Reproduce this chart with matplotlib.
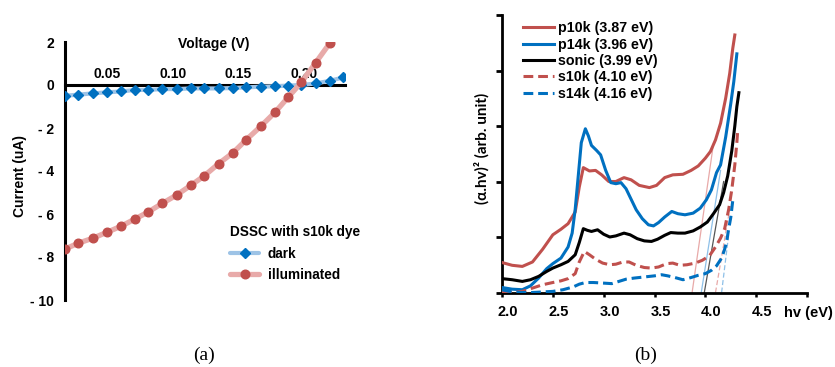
import matplotlib
matplotlib.use("Agg")
import matplotlib.pyplot as plt
import matplotlib.transforms as mtransforms

plt.rcParams['font.family'] = ['Liberation Sans', 'DejaVu Sans']

# ---------------- panel (a) data ----------------
voltage = [0.018, 0.028, 0.039, 0.050, 0.061, 0.071, 0.081, 0.092, 0.103, 0.114,
           0.124, 0.135, 0.146, 0.156, 0.167, 0.178, 0.188, 0.198, 0.209, 0.220, 0.230]
dark = [-0.50, -0.45, -0.39, -0.34, -0.30, -0.23, -0.23, -0.19, -0.19, -0.16,
        -0.16, -0.16, -0.14, -0.11, -0.08, -0.06, -0.03, 0.00, 0.07, 0.20, 0.35]
illuminated = [-7.63, -7.36, -7.13, -6.85, -6.56, -6.24, -5.92, -5.51, -5.12, -4.66,
               -4.23, -3.66, -3.15, -2.55, -1.93, -1.27, -0.57, 0.12, 1.04, 1.97]
a_xticks = [0.05, 0.10, 0.15, 0.20]
a_xticklabels = ["0.05", "0.10", "0.15", "0.20"]
a_yticks = [2, 0, -2, -4, -6, -8, -10]
a_yticklabels = ["2", "0", "- 2", "- 4", "- 6", "- 8", "- 10"]

# ---------------- panel (b) data ----------------
p10k_E = [2.00, 2.10, 2.20, 2.30, 2.40, 2.50, 2.58, 2.65, 2.72, 2.76, 2.80, 2.86, 2.92, 2.98,
          3.05, 3.12, 3.20, 3.27, 3.35, 3.45, 3.52, 3.60, 3.68, 3.78, 3.86, 3.93, 4.00, 4.05,
          4.10, 4.15, 4.20, 4.24, 4.27, 4.29]
p10k_Y = [0.54, 0.49, 0.47, 0.55, 0.78, 1.04, 1.14, 1.24, 1.45, 1.90, 2.25, 2.19, 2.20, 2.12,
          2.00, 2.00, 2.07, 2.03, 1.93, 1.89, 1.93, 2.07, 2.12, 2.13, 2.20, 2.28, 2.42, 2.54,
          2.75, 3.05, 3.50, 3.95, 4.40, 4.64]

p14k_E = [2.00, 2.10, 2.20, 2.28, 2.36, 2.44, 2.50, 2.58, 2.65, 2.69, 2.72, 2.75, 2.78, 2.82,
          2.85, 2.88, 2.93, 2.97, 3.02, 3.07, 3.12, 3.17, 3.22, 3.27, 3.32, 3.38, 3.44, 3.49,
          3.54, 3.60, 3.67, 3.73, 3.80, 3.88, 3.95, 4.01, 4.06, 4.11, 4.15, 4.20, 4.25, 4.28, 4.31]
p14k_Y = [0.09, 0.06, 0.05, 0.12, 0.26, 0.43, 0.52, 0.62, 0.82, 1.07, 1.50, 2.10, 2.70, 2.95,
          2.82, 2.65, 2.56, 2.48, 2.20, 1.98, 1.96, 1.98, 1.87, 1.68, 1.49, 1.33, 1.22, 1.20,
          1.26, 1.36, 1.46, 1.42, 1.40, 1.43, 1.52, 1.67, 1.85, 2.16, 2.30, 2.80, 3.40, 3.80, 4.30]

sonic_E = [2.00, 2.10, 2.20, 2.28, 2.36, 2.44, 2.50, 2.58, 2.65, 2.72, 2.76, 2.80, 2.84, 2.88,
           2.94, 3.00, 3.06, 3.12, 3.20, 3.26, 3.33, 3.40, 3.47, 3.53, 3.60, 3.66, 3.73, 3.80,
           3.88, 3.95, 4.02, 4.08, 4.14, 4.18, 4.22, 4.26, 4.29, 4.31, 4.33]
sonic_Y = [0.25, 0.23, 0.20, 0.23, 0.29, 0.38, 0.44, 0.50, 0.56, 0.68, 0.90, 1.15, 1.12, 1.10,
           1.13, 1.05, 1.00, 1.02, 1.07, 1.04, 0.97, 0.93, 0.92, 0.96, 1.03, 1.08, 1.07, 1.07,
           1.11, 1.18, 1.27, 1.42, 1.58, 1.80, 2.10, 2.55, 3.00, 3.35, 3.60]

s10k_E = [2.00, 2.10, 2.20, 2.30, 2.40, 2.50, 2.58, 2.65, 2.72, 2.76, 2.81, 2.86, 2.92, 2.99,
          3.06, 3.12, 3.19, 3.25, 3.32, 3.40, 3.47, 3.54, 3.62, 3.68, 3.75, 3.82, 3.90, 3.97,
          4.04, 4.10, 4.15, 4.19, 4.23, 4.26, 4.29, 4.31, 4.32]
s10k_Y = [0.02, 0.00, 0.02, 0.08, 0.14, 0.18, 0.21, 0.25, 0.34, 0.55, 0.74, 0.68, 0.60, 0.53,
          0.50, 0.51, 0.55, 0.55, 0.49, 0.45, 0.44, 0.46, 0.52, 0.53, 0.49, 0.50, 0.53, 0.58,
          0.66, 0.82, 0.98, 1.15, 1.50, 1.85, 2.30, 2.70, 2.96]

s14k_E = [2.00, 2.10, 2.20, 2.30, 2.40, 2.50, 2.60, 2.70, 2.76, 2.82, 2.90, 2.99, 3.08, 3.15,
          3.22, 3.30, 3.40, 3.50, 3.57, 3.63, 3.70, 3.78, 3.86, 3.93, 4.00, 4.06, 4.11, 4.16,
          4.19, 4.21, 4.23, 4.25, 4.27]
s14k_Y = [0.05, 0.01, 0.00, 0.00, 0.01, 0.02, 0.05, 0.10, 0.15, 0.18, 0.18, 0.17, 0.16, 0.20,
          0.24, 0.26, 0.28, 0.30, 0.32, 0.30, 0.27, 0.23, 0.27, 0.31, 0.34, 0.40, 0.48, 0.62,
          0.78, 0.92, 1.15, 1.35, 1.66]

b_names = ["p10k (3.87 eV)", "p14k (3.96 eV)", "sonic (3.99 eV)", "s10k (4.10 eV)", "s14k (4.16 eV)"]
band_gaps = [3.87, 3.96, 3.99, 4.10, 4.16]
tangent_end_E = [4.08, 4.15, 4.18, 4.24, 4.23]
tangent_end_Y = [2.68, 2.20, 2.00, 1.50, 1.05]
b_xticks = [2.0, 2.5, 3.0, 3.5, 4.0, 4.5, 5.0]
b_xticklabels = ["2.0", "2.5", "3.0", "3.5", "4.0", "4.5"]

RED = "#C0504D"
BLUE = "#0070C0"

fig = plt.figure(figsize=(8.35, 3.67), dpi=100)
W, H = 835.0, 367.0

# ================= panel (a) =================
axa = fig.add_axes([65 / W, (H - 300) / H, 280 / W, 258 / H])
axa.plot(voltage, dark, color="#9DC3E6", lw=3.0, marker="D", ms=5,
         mfc=BLUE, mec=BLUE, label="dark", zorder=3, solid_capstyle="round")
axa.plot(voltage[:len(illuminated)], illuminated, color="#E8AAA9", lw=3.8, marker="o", ms=6.2,
         mfc=RED, mec=RED, label="illuminated", zorder=3, solid_capstyle="round")
axa.set_xlim(0.018, 0.2313)
axa.set_ylim(-10, 2)
for s in ["right", "bottom"]:
    axa.spines[s].set_visible(False)
axa.spines["left"].set_linewidth(2.2)
axa.spines["top"].set_position(("data", 0))
axa.spines["top"].set_linewidth(2.2)
axa.spines["top"].set_zorder(2)
axa.xaxis.set_ticks_position("top")
axa.set_xticks(a_xticks)
axa.set_xticklabels(a_xticklabels, fontsize=10, fontweight="bold")
axa.tick_params(axis="x", length=0, pad=3)
axa.set_yticks(a_yticks)
axa.set_yticklabels(a_yticklabels, fontsize=10, fontweight="bold")
axa.tick_params(axis="y", length=0, pad=8)
axa.text(0.53, 0.992, "Voltage (V)", transform=axa.transAxes, ha="center", va="center",
         fontsize=10, fontweight="bold")
fig.text(20 / W, 1 - 176 / H, "Current (uA)", rotation=90, ha="center", va="center",
         fontsize=10, fontweight="bold")
leg = axa.legend(title="DSSC with s10k dye", loc="upper left",
                 bbox_to_anchor=(220 / W, 1 - 215.5 / H), bbox_transform=fig.transFigure,
                 frameon=False, prop={"size": 9.8, "weight": "bold"},
                 title_fontproperties={"size": 9.8, "weight": "bold"},
                 alignment="left", handlelength=2.2, handletextpad=0.6, labelspacing=0.55,
                 borderpad=0.2)
fig.text(204 / W, 1 - 355 / H, "(a)", family="Liberation Serif", fontsize=14,
         ha="center", va="center")

# ================= panel (b) =================
axb = fig.add_axes([502 / W, (H - 292.5) / H, 305 / W, 277.5 / H])
series = [(p10k_E, p10k_Y, RED, "-"), (p14k_E, p14k_Y, BLUE, "-"),
          (sonic_E, sonic_Y, "black", "-"), (s10k_E, s10k_Y, RED, (0, (3.2, 1.6))),
          (s14k_E, s14k_Y, BLUE, (0, (3.2, 1.6)))]
tangent_colors = ["#E8A9A8", "#8EC0E8", "#555555", "#E8A9A8", "#8EC0E8"]
tangent_styles = ["-", "-", "-", (0, (4, 2)), (0, (4, 2))]
for i in range(5):
    axb.plot([band_gaps[i], tangent_end_E[i]], [0, tangent_end_Y[i]],
             color=tangent_colors[i], lw=0.9, ls=tangent_styles[i], zorder=2)
for i, (e, y, c, ls) in enumerate(series):
    axb.plot(e, y, color=c, lw=2.2, ls=ls, label=b_names[i], zorder=3)
axb.set_xlim(2.0, 5.0)
axb.set_ylim(0, 5)
for s in ["right", "top"]:
    axb.spines[s].set_visible(False)
axb.spines["left"].set_linewidth(2.0)
axb.spines["bottom"].set_linewidth(2.0)
axb.set_xticks(b_xticks)
axb.set_xticklabels([])
axb.tick_params(axis="x", length=3, width=1.8, colors="black")
blend = mtransforms.blended_transform_factory(axb.transData, axb.transAxes)
lab_off = mtransforms.ScaledTranslation(6 / 100, -13 / 100, fig.dpi_scale_trans)
for t, lab in zip(b_xticks, b_xticklabels):
    axb.text(t, 0, lab, transform=blend + lab_off, ha="center", va="top",
             fontsize=10.5, fontweight="bold")
hv_off = mtransforms.ScaledTranslation(1 / 100, -13 / 100, fig.dpi_scale_trans)
axb.text(b_xticks[-1], 0, "hv (eV)", transform=blend + hv_off, ha="center", va="top",
         fontsize=10.5, fontweight="bold")
axb.set_yticks([0, 1, 2, 3, 4, 5])
axb.set_yticklabels([])
axb.tick_params(axis="y", length=4, width=2.0)
fig.text(482 / W, 1 - 148 / H, "(α.hv)² (arb. unit)", rotation=90, ha="center", va="center",
         family=["Lato", "DejaVu Sans"], fontsize=11, fontweight="bold")
axb.legend(loc="upper left", bbox_to_anchor=(514 / W, 1 - 12.5 / H), bbox_transform=fig.transFigure,
           frameon=False, prop={"size": 10.3, "weight": "bold"}, handlelength=2.2,
           handletextpad=0.3, labelspacing=0.17, borderpad=0.1)
fig.text(646 / W, 1 - 355 / H, "(b)", family="Liberation Serif", fontsize=14,
         ha="center", va="center")

fig.savefig("out.png", dpi=100)
